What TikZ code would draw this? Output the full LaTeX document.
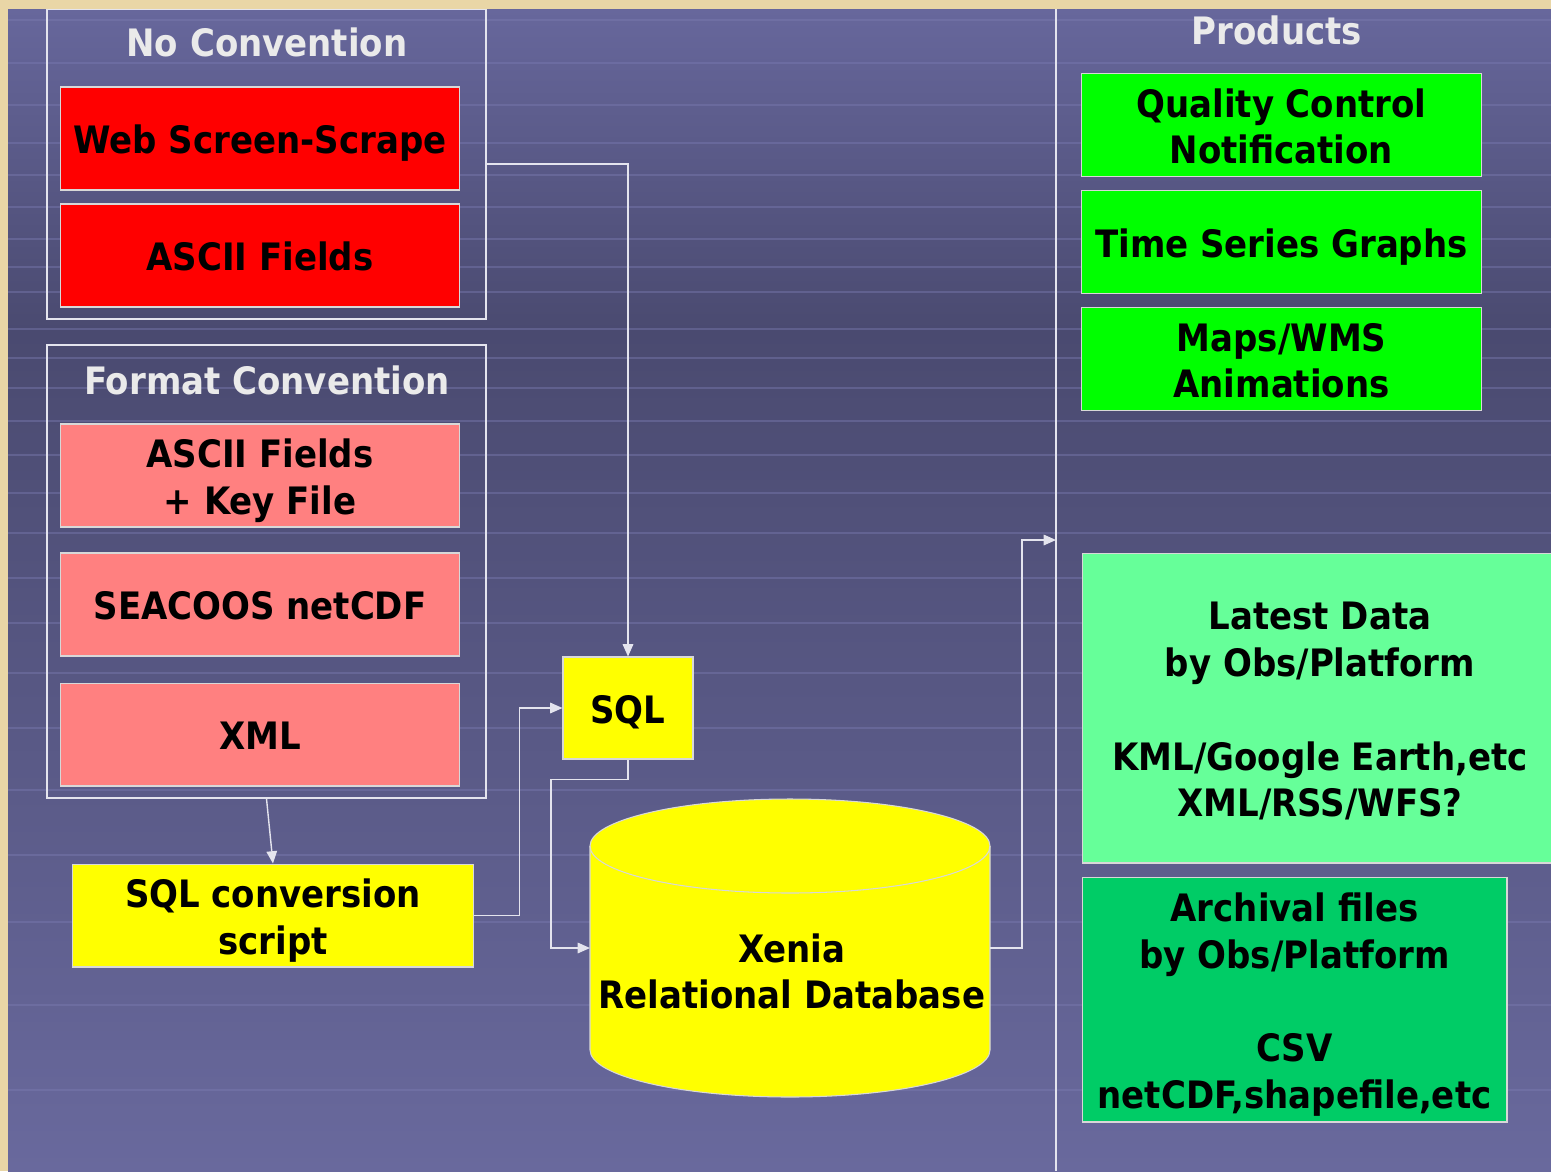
\documentclass[tikz,border=0pt]{standalone}
\usepackage{fontspec}
\setmainfont{DejaVu Sans Condensed}
\usetikzlibrary{arrows.meta}
\definecolor{xn-frame}{HTML}{E9D6A6}
\definecolor{xn-bgtop}{HTML}{67679C}
\definecolor{xn-bgmid}{HTML}{4A4A70}
\definecolor{xn-bgbot}{HTML}{69699D}
\definecolor{xn-stripe}{HTML}{7A7AB0}
\definecolor{xn-line}{HTML}{E4E4EE}
\definecolor{xn-edge}{HTML}{D8D8D8}
\definecolor{xn-title}{HTML}{EAEAEA}
\definecolor{xn-red}{HTML}{FF0000}
\definecolor{xn-pink}{HTML}{FF8080}
\definecolor{xn-yellow}{HTML}{FFFF00}
\definecolor{xn-green}{HTML}{00FF00}
\definecolor{xn-mint}{HTML}{66FF99}
\definecolor{xn-teal}{HTML}{00CC66}
\newcommand\boxfont{\fontsize{21.5}{26.6}\selectfont\bfseries}
% struts so that every box centres its capitals the same way
\newcommand\tstrut{\rule{0pt}{23pt}}
\newcommand\bstrut{\rule[-5.5pt]{0pt}{5.5pt}}

\begin{document}
\begin{tikzpicture}[x=0.02cm, y=-0.02cm, >={Triangle[length=7pt, width=6pt]},
    box/.style={draw=xn-edge, line width=0.6pt, minimum width=8cm, minimum height=2.06cm,
        inner sep=0pt, align=center, text=black, font=\boxfont},
    groupbox/.style={draw=xn-line, line width=0.8pt, inner sep=0pt},
    grouptitle/.style={text=xn-title, font=\boxfont},
    link/.style={draw=xn-line, line width=0.8pt, ->}]
    \useasboundingbox (0,0) rectangle (1551,1171);

    % --- Background ---
    \fill[xn-frame] (0,0) rectangle (1551,1171);
    \fill[top color=xn-bgtop, bottom color=xn-bgmid] (8,9) rectangle (1551,330);
    \fill[top color=xn-bgmid, bottom color=xn-bgbot] (8,330) rectangle (1551,1171);
    \foreach \y in {20,63,105,143,175,207,239,267,292,329,358,388,421,455,493,533,578,623,673,728,790,855,922,1005,1090}
        \draw[xn-stripe, opacity=0.45, line width=0.8pt] (8,\y) -- (1551,\y);

    % --- No Convention ---
    \node[groupbox, minimum width=8.78cm, minimum height=6.2cm] (nocon) at (266.5,164) {};
    \node[grouptitle] (noconT) at (267,42) {No Convention};
    \node[box, fill=xn-red] (scrape) at (260,138.5) {\tstrut Web Screen-Scrape\bstrut};
    \node[box, fill=xn-red] (ascii) at (260,255.5) {\tstrut ASCII Fields\bstrut};

    % --- Format Convention ---
    \node[groupbox, minimum width=8.78cm, minimum height=9.06cm] (fmt) at (266.5,571.5) {};
    \node[grouptitle] (fmtT) at (267,380) {Format Convention};
    \node[box, fill=xn-pink] (asciikey) at (260,475.5) {\tstrut ASCII Fields\\+ Key File\bstrut};
    \node[box, fill=xn-pink] (netcdf) at (260,604.5) {\tstrut SEACOOS netCDF\bstrut};
    \node[box, fill=xn-pink] (xml) at (260,734.5) {\tstrut XML\bstrut};

    % --- Conversion and database ---
    \node[box, fill=xn-yellow, minimum width=8.04cm] (conv) at (273,915.5) {\tstrut SQL conversion\\script\bstrut};
    \node[box, fill=xn-yellow, minimum width=2.6cm, minimum height=2.04cm] (sql) at (628,708) {\tstrut SQL\bstrut};
    \draw[draw=xn-edge, line width=0.6pt, fill=xn-yellow]
        (590,846) -- (590,1050) arc[start angle=180, end angle=0, x radius=200, y radius=47]
        -- (990,846) arc[start angle=360, end angle=180, x radius=200, y radius=47] -- cycle;
    \draw[xn-edge, line width=0.6pt] (590,846) arc[start angle=180, end angle=0, x radius=200, y radius=47];
    \node[align=center, font=\boxfont] (db) at (792,971.5) {Xenia\\Relational Database};
    \coordinate (dbin) at (590,948);
    \coordinate (dbout) at (990,948);

    % --- Products ---
    \coordinate (divtop) at (1056,9);
    \coordinate (divbot) at (1056,1171);
    \coordinate (prodin) at (1056,540);
    \draw[xn-line, line width=0.8pt] (divtop) -- (divbot);
    \node[grouptitle] (prodT) at (1277,30) {Products};
    \node[box, fill=xn-green] (qc) at (1281.5,125) {\tstrut Quality Control\\Notification\bstrut};
    \node[box, fill=xn-green] (ts) at (1281.5,242) {\tstrut Time Series Graphs\bstrut};
    \node[box, fill=xn-green] (maps) at (1281.5,359) {\tstrut Maps/WMS\\Animations\bstrut};
    \node[box, fill=xn-mint, minimum width=9.52cm, minimum height=6.2cm] (latest) at (1320,708)
        {\tstrut Latest Data\\by Obs/Platform\\[26.6pt]KML/Google Earth,etc\\XML/RSS/WFS?\bstrut};
    \node[box, fill=xn-teal, minimum width=8.5cm, minimum height=4.9cm] (arch) at (1294.5,999.5)
        {\tstrut Archival files\\by Obs/Platform\\[26.6pt]CSV\\netCDF,shapefile,etc\bstrut};

    % --- Connectors ---
    \draw[link] (nocon.east) -| (sql.north);
    \draw[link] (fmt.south) -- (conv.north);
    \draw[link] (conv.east) -- ++(45,0) |- (sql.west);
    \draw[link] (sql.south) -- ++(0,20) -- ++(-77,0) |- (dbin);
    \draw[link] (dbout) -- ++(32,0) |- (prodin);

    % top frame strip over the group outline
    \fill[xn-frame] (0,0) rectangle (1551,9);
\end{tikzpicture}
\end{document}
